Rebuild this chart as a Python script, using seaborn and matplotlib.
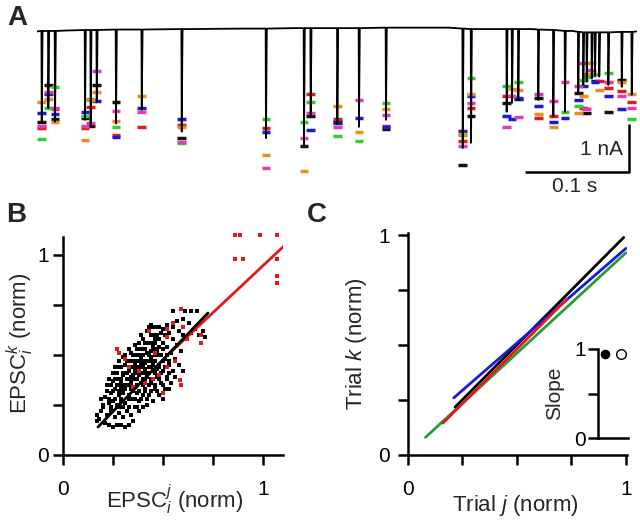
import numpy as np
import pandas as pd
import seaborn as sns
import matplotlib
matplotlib.use("Agg")
import matplotlib.pyplot as plt

sns.set_style("ticks")
plt.rcParams['font.family'] = ['Liberation Sans', 'DejaVu Sans']
plt.rcParams['mathtext.fontset'] = 'custom'
plt.rcParams['mathtext.rm'] = 'Liberation Sans'
plt.rcParams['mathtext.it'] = 'Liberation Sans:italic'
plt.rcParams['mathtext.bf'] = 'Liberation Sans:bold'

nan = np.nan

# -------------------------------
# Panel A: trace (s, nA) and per-trial peak amplitudes
event_t = [0.0046, 0.0110, 0.0175, 0.0466, 0.0521, 0.0580, 0.0767, 0.1017,
           0.1405, 0.2223, 0.2592, 0.2657, 0.2916, 0.3126, 0.3388, 0.4133,
           0.4214, 0.4560, 0.4612, 0.4673, 0.4867, 0.5013, 0.5126, 0.5255,
           0.5304, 0.5337, 0.5386, 0.5417, 0.5459, 0.5547, 0.5677, 0.5774]
event_peak = [-1.98, -1.66, -1.95, -1.91, -2.06, -1.53, -1.99, -1.70,
              -2.16, -2.30, -2.47, -1.83, -2.00, -2.06, -1.91, -2.51,
              -2.40, -1.74, -1.55, -1.49, -1.49, -1.84, -1.74, -1.35,
              -1.17, -1.10, -1.03, -0.96, -0.99, -1.17, -1.21, -1.38]
event_base = [-0.02, -0.02, -0.02, 0.0, 0.0, 0.0, 0.01, 0.01,
              0.02, 0.03, 0.04, 0.04, 0.04, 0.04, 0.05, 0.03,
              0.02, 0.02, 0.02, 0.02, 0.01, 0.0, -0.02, -0.04,
              -0.05, -0.05, -0.05, -0.05, -0.05, -0.05, -0.04, -0.04]
base_t = [0.0, 0.03, 0.08, 0.15, 0.2, 0.25, 0.3, 0.38, 0.40, 0.45, 0.48, 0.52, 0.55, 0.582]
base_i = [-0.03, -0.01, 0.01, 0.02, 0.03, 0.04, 0.04, 0.05, 0.05, 0.02, 0.02, -0.02, -0.05, -0.03]

trial_black = [-1.95, -1.16, -1.89, -1.87, -2.04, -1.16, -1.53, nan,
               -2.30, nan, -2.47, -1.83, -1.96, nan, -2.11, -2.87,
               -1.84, -1.55, nan, -1.47, -1.44, nan, nan, -1.33,
               nan, -1.76, nan, -1.09, nan, -1.74, -1.06, nan]
trial_red = [-2.09, nan, -1.68, -2.09, -1.64, nan, -2.23, -2.06,
             -2.02, -2.09, nan, -1.37, -1.89, nan, -2.04, -2.36,
             -1.67, -1.40, nan, nan, -1.88, -1.84, nan, nan,
             -1.67, nan, nan, nan, -1.09, -1.24, -1.29, -1.54]
trial_blue = [-1.77, -1.36, -1.79, -1.74, nan, -1.50, -2.28, -1.65,
              -1.90, -2.18, nan, -2.13, -1.97, -1.87, -2.07, -2.15,
              -1.40, -1.84, -1.89, -1.44, -1.62, -1.95, -1.88, -1.49,
              -1.19, nan, -0.96, -1.10, nan, -1.40, -1.69, nan]
trial_green = [-2.32, -1.66, -1.21, -1.83, -1.47, nan, -2.06, nan,
               -2.41, -1.89, -1.95, -1.53, -2.25, -2.36, -1.56, -2.23,
               -1.03, -1.19, nan, -1.11, nan, nan, -1.75, -1.62,
               -1.06, -1.01, nan, -0.94, nan, -0.92, nan, -1.90]
trial_orange = [-1.53, -1.47, -1.96, -2.33, -1.49, -1.31, -1.94, -1.40,
                -2.07, -2.66, -3.00, nan, -1.61, -2.18, -1.69, -2.21,
                -1.36, nan, -1.26, -1.28, -1.79, -2.06, nan, -1.77,
                -1.40, -0.94, -0.71, nan, -1.28, -1.10, -1.11, -1.37]
trial_magenta = [-2.04, -1.31, -1.66, -2.04, -1.97, -0.87, -1.72, -1.74,
                 -2.39, -2.93, -2.30, -1.77, -2.06, -1.49, -1.81, -2.47,
                 -1.55, -2.06, -1.40, -1.85, -1.37, -1.50, -1.10, -1.19,
                 -0.70, -1.69, -0.85, nan, nan, -1.10, -1.40, -1.67]

trial_colors = {'black': '#111111', 'red': '#e31a1c', 'blue': '#1a1ad8',
                'green': '#2fd02f', 'orange': '#e8901c', 'magenta': '#e03cb4'}

# -------------------------------
# Panel B: EPSC_i^j vs EPSC_i^k (norm)
bx_black = [0.17, 0.18, 0.17, 0.19, 0.21, 0.23, 0.25, 0.27, 0.29, 0.31, 0.33, 0.22, 0.24, 0.20, 0.23,
            0.26, 0.28, 0.25, 0.21, 0.27, 0.30, 0.32, 0.29, 0.24, 0.26, 0.22, 0.28, 0.31, 0.34, 0.36,
            0.27, 0.25, 0.29, 0.31, 0.33, 0.35, 0.37, 0.30, 0.32, 0.34, 0.36, 0.38, 0.40, 0.28, 0.31,
            0.33, 0.35, 0.37, 0.39, 0.41, 0.43, 0.45, 0.30, 0.33, 0.36, 0.38, 0.40, 0.42, 0.44, 0.46,
            0.48, 0.34, 0.37, 0.39, 0.41, 0.43, 0.45, 0.47, 0.49, 0.51, 0.36, 0.39, 0.42, 0.44, 0.46,
            0.48, 0.50, 0.52, 0.54, 0.40, 0.43, 0.45, 0.47, 0.49, 0.51, 0.53, 0.55, 0.42, 0.45, 0.48,
            0.50, 0.52, 0.54, 0.56, 0.44, 0.47, 0.50, 0.53, 0.55, 0.57, 0.59,
            0.46, 0.49, 0.52, 0.55, 0.58, 0.60, 0.62, 0.64, 0.66, 0.68, 0.70, 0.71, 0.57, 0.60, 0.63,
            0.55, 0.61, 0.64, 0.67, 0.58, 0.60, 0.56, 0.53, 0.50, 0.42, 0.38, 0.35,
            0.38, 0.40, 0.36, 0.34, 0.41, 0.39, 0.37, 0.43, 0.45, 0.47, 0.42, 0.44, 0.46, 0.48, 0.32,
            0.30, 0.34, 0.29, 0.27, 0.25,
            0.20, 0.24, 0.28, 0.30, 0.33, 0.37, 0.40,
            0.19, 0.23, 0.26, 0.29, 0.33, 0.36, 0.39, 0.42,
            0.22, 0.25, 0.28, 0.30, 0.35, 0.38, 0.41, 0.44, 0.47,
            0.24, 0.31, 0.33, 0.37, 0.40, 0.43, 0.46, 0.50,
            0.23, 0.26, 0.29, 0.33, 0.35, 0.41, 0.44, 0.48, 0.52,
            0.27, 0.30, 0.32, 0.37, 0.42, 0.46, 0.49, 0.53,
            0.26, 0.29, 0.34, 0.36, 0.38, 0.40, 0.44, 0.48, 0.51,
            0.28, 0.32, 0.35, 0.39, 0.41, 0.44, 0.50, 0.53,
            0.31, 0.35, 0.38, 0.40, 0.43, 0.47, 0.52,
            0.33, 0.37, 0.41, 0.46, 0.50,
            0.38, 0.41, 0.44, 0.46,
            0.39, 0.44, 0.47, 0.51,
            0.43, 0.45, 0.48]
by_black = [0.20, 0.18, 0.17, 0.22, 0.16, 0.15, 0.14, 0.15, 0.15, 0.14, 0.15, 0.20, 0.22, 0.25, 0.26,
            0.19, 0.21, 0.27, 0.29, 0.25, 0.19, 0.22, 0.27, 0.31, 0.33, 0.35, 0.30, 0.26, 0.20, 0.24,
            0.38, 0.41, 0.36, 0.33, 0.30, 0.28, 0.31, 0.40, 0.38, 0.36, 0.34, 0.27, 0.30, 0.44, 0.45,
            0.42, 0.40, 0.38, 0.36, 0.33, 0.30, 0.27, 0.49, 0.47, 0.45, 0.43, 0.41, 0.39, 0.36, 0.33,
            0.30, 0.51, 0.50, 0.48, 0.46, 0.44, 0.42, 0.39, 0.36, 0.33, 0.55, 0.53, 0.51, 0.49, 0.47,
            0.45, 0.42, 0.39, 0.36, 0.58, 0.56, 0.54, 0.52, 0.50, 0.48, 0.45, 0.42, 0.62, 0.60, 0.58,
            0.56, 0.54, 0.51, 0.48, 0.65, 0.64, 0.63, 0.61, 0.58, 0.55, 0.52,
            0.58, 0.61, 0.65, 0.64, 0.62, 0.60, 0.58, 0.61, 0.63, 0.60, 0.62, 0.59, 0.67, 0.68, 0.66,
            0.72, 0.72, 0.72, 0.72, 0.45, 0.42, 0.39, 0.33, 0.28, 0.25, 0.22, 0.17,
            0.40, 0.38, 0.42, 0.39, 0.43, 0.45, 0.47, 0.41, 0.45, 0.43, 0.47, 0.52, 0.50, 0.54, 0.35,
            0.31, 0.33, 0.34, 0.35, 0.37,
            0.24, 0.24, 0.24, 0.24, 0.24, 0.24, 0.24,
            0.28, 0.28, 0.28, 0.28, 0.28, 0.28, 0.28, 0.28,
            0.32, 0.32, 0.32, 0.32, 0.32, 0.32, 0.32, 0.32, 0.32,
            0.35, 0.35, 0.35, 0.35, 0.35, 0.35, 0.35, 0.35,
            0.38, 0.38, 0.38, 0.38, 0.38, 0.38, 0.38, 0.38, 0.38,
            0.41, 0.41, 0.41, 0.41, 0.41, 0.41, 0.41, 0.41,
            0.44, 0.44, 0.44, 0.44, 0.44, 0.44, 0.44, 0.44, 0.44,
            0.47, 0.47, 0.47, 0.47, 0.47, 0.47, 0.47, 0.47,
            0.50, 0.50, 0.50, 0.50, 0.50, 0.50, 0.50,
            0.53, 0.53, 0.53, 0.53, 0.53,
            0.56, 0.56, 0.56, 0.56,
            0.60, 0.60, 0.60, 0.60,
            0.64, 0.64, 0.64]
bx_red = [0.27, 0.28, 0.43, 0.52, 0.55, 0.59, 0.60, 0.69, 0.69, 0.585, 0.59, 0.50, 0.48, 0.35,
          0.38, 0.33, 0.52, 0.46, 0.56, 0.52, 0.62, 0.41, 0.45, 0.31,
          0.86, 0.885, 0.985, 1.07, 0.86, 0.90, 1.07, 1.07, 1.07]
by_red = [0.53, 0.51, 0.62, 0.63, 0.66, 0.73, 0.64, 0.60, 0.56, 0.375, 0.35, 0.31, 0.40, 0.34,
          0.42, 0.44, 0.44, 0.51, 0.47, 0.59, 0.58, 0.36, 0.38, 0.48,
          1.10, 1.10, 1.10, 1.10, 0.98, 0.98, 0.98, 0.895, 0.86]
fit_black_x = [0.175, 0.725]
fit_black_y = [0.14, 0.71]
fit_red_x = [0.535, 1.11]
fit_red_y = [0.51, 1.05]

# -------------------------------
# Panel C: fitted lines per cell, trial j vs trial k (norm)
line_black = ([0.216, 0.99], [0.218, 0.99])
line_blue = ([0.21, 1.0], [0.26, 0.94])
line_red = ([0.16, 0.73], [0.145, 0.71])
line_green = ([0.08, 1.0], [0.08, 0.92])
slope_x = [0, 1]
slope_y = [0.944, 0.944]

# ===============================
fig = plt.figure(figsize=(6.4, 5.21), dpi=100)
W, H = 640.0, 521.0

# ---- Panel A
axA = fig.add_axes([37 / W, (H - 178) / H, 600 / W, 158 / H])
pts_t = list(base_t)
pts_i = list(base_i)
for t, p, b in zip(event_t, event_peak, event_base):
    pts_t += [t - 0.0003, t, t + 0.0008]
    pts_i += [b, p, b]
trace = pd.DataFrame({'t': pts_t, 'i': pts_i}).sort_values('t')
sns.lineplot(data=trace, x='t', y='i', sort=False, estimator=None, color='black',
             lw=1.3, ax=axA)

dash_rows = []
for name, vals in [('black', trial_black), ('red', trial_red), ('blue', trial_blue),
                   ('green', trial_green), ('orange', trial_orange), ('magenta', trial_magenta)]:
    for t, v in zip(event_t, vals):
        if not np.isnan(v):
            dash_rows.append({'t': t, 'i': v, 'trial': name})
dashes = pd.DataFrame(dash_rows)
sns.scatterplot(data=dashes, x='t', y='i', hue='trial', palette=trial_colors,
                marker='_', s=40, linewidth=2.5, legend=False, ax=axA)

# scale bar
axA.plot([0.4738, 0.5748, 0.5748], [-3.03, -3.03, -2.00], color='black', lw=1.8,
         clip_on=False, solid_capstyle='butt')
axA.text(0.569, -2.55, '1 nA', ha='right', va='center', fontsize=15)
axA.text(0.522, -3.33, '0.1 s', ha='center', va='center', fontsize=15)
axA.set_xlim(0, 600 / 1030)
axA.set_ylim(-148 / 47, 10 / 47)
axA.axis('off')


def style_axes(ax):
    for side in ['top', 'right']:
        ax.spines[side].set_visible(False)
    for side in ['left', 'bottom']:
        ax.spines[side].set_linewidth(1.8)
        ax.spines[side].set_color('black')
    ax.tick_params(axis='both', width=1.8, length=7, color='black', labelsize=15,
                   labelcolor='black')
    ax.tick_params(axis='x', pad=11)
    ax.tick_params(axis='y', pad=3)
    ax.set_facecolor('none')


# ---- Panel B
axB = fig.add_axes([63 / W, 66 / H, 220 / W, 218 / H])
sns.scatterplot(x=bx_black, y=by_black, color='black', marker='s', s=12, linewidth=0, ax=axB)
sns.scatterplot(x=bx_red, y=by_red, color='#e31a1c', marker='s', s=10, linewidth=0,
                clip_on=False, ax=axB)
sns.lineplot(x=fit_red_x, y=fit_red_y, color='#e31a1c', lw=2.0, ax=axB)
sns.lineplot(x=fit_black_x, y=fit_black_y, color='black', lw=2.0, ax=axB)
axB.set_xlim(0, 1.1)
axB.set_ylim(0, 1.09)
axB.set_xticks([0, 0.25, 0.5, 0.75, 1])
axB.set_xticklabels(['0', '', '', '', '1'])
axB.set_yticks([0, 0.25, 0.5, 0.75, 1])
axB.set_yticklabels(['0', '', '', '', '1'])
style_axes(axB)
axB.set_xlabel(r'EPSC$_i^j$ (norm)', fontsize=16)
axB.set_ylabel(r'EPSC$_i^k$ (norm)', fontsize=16)
axB.xaxis.label.set_va('center')
axB.yaxis.label.set_va('center')
axB.xaxis.set_label_coords(0.505, -0.206)
axB.yaxis.set_label_coords(-0.195, 0.514)

# ---- Panel C
axC = fig.add_axes([408 / W, 66 / H, 219 / W, 222 / H])
sns.lineplot(x=line_green[0], y=line_green[1], color='#2a9a3a', lw=2.0, ax=axC)
sns.lineplot(x=line_black[0], y=line_black[1], color='black', lw=2.0, ax=axC)
sns.lineplot(x=line_blue[0], y=line_blue[1], color='#1a1ad8', lw=2.0, ax=axC)
sns.lineplot(x=line_red[0], y=line_red[1], color='#e31a1c', lw=2.0, ax=axC)
axC.set_xlim(0, 1.005)
axC.set_ylim(0, 1.01)
axC.set_xticks([0, 0.25, 0.5, 0.75, 1])
axC.set_xticklabels(['0', '', '', '', '1'])
axC.set_yticks([0, 0.25, 0.5, 0.75, 1])
axC.set_yticklabels(['0', '', '', '', '1'])
style_axes(axC)
axC.tick_params(axis='y', pad=6)
axC.set_xlabel(r'Trial $j$ (norm)', fontsize=16)
axC.set_ylabel(r'Trial $k$ (norm)', fontsize=16)
axC.xaxis.label.set_va('center')
axC.yaxis.label.set_va('center')
axC.xaxis.set_label_coords(0.49, -0.227)
axC.yaxis.set_label_coords(-0.233, 0.50)

# ---- inset: slopes
axI = fig.add_axes([598 / W, 83 / H, 30 / W, 89 / H])
sns.scatterplot(x=slope_x[:1], y=slope_y[:1], color='black', s=48, linewidth=0, ax=axI)
sns.scatterplot(x=slope_x[1:], y=slope_y[1:], facecolor='white', edgecolor='black',
                s=48, linewidth=1.0, ax=axI)
axI.set_xlim(-0.4, 1.4)
axI.set_ylim(0, 1.0)
axI.set_xticks([])
axI.set_yticks([0, 0.5, 1])
axI.set_yticklabels(['0', '', '1'])
style_axes(axI)
axI.tick_params(axis='y', pad=2)
axI.set_ylabel('Slope', fontsize=15)
axI.yaxis.label.set_va('center')
axI.yaxis.set_label_coords(-1.45, 0.5)
for sp in axI.spines.values():
    sp.set_clip_on(False)

# ---- panel letters
fig.text(7 / W, 1 - 5 / H, 'A', fontsize=20, fontweight='bold', va='top', ha='left')
fig.text(6 / W, 1 - 202 / H, 'B', fontsize=20, fontweight='bold', va='top', ha='left')
fig.text(307 / W, 1 - 202 / H, 'C', fontsize=20, fontweight='bold', va='top', ha='left')

fig.savefig('out.png', dpi=100)
plt.close()
